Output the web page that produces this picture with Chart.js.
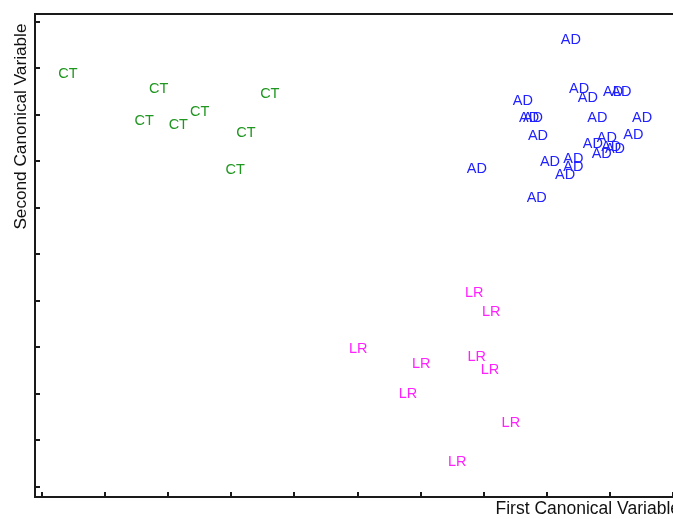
<!DOCTYPE html>
<html>
<head>
<meta charset="utf-8">
<script src="https://cdn.jsdelivr.net/npm/chart.js@4"></script>
<style>
  html, body { margin: 0; padding: 0; background: #fff; overflow: hidden; }
</style>
</head>
<body>
<canvas id="myChart" width="700" height="519"></canvas>
<script>
// group labels drawn as the markers
const groupNames = ["CT", "AD", "LR"];
const groupColors = ["#1f961f", "#2222ff", "#ff22ff"];

// CT scores (first, second canonical variable)
const ctX = [0.41, 1.85, 3.61, 2.50, 1.62, 2.16, 3.23, 3.06];
const ctY = [8.90, 8.58, 8.47, 8.09, 7.89, 7.81, 7.63, 6.84];

// AD scores
const adX = [8.38, 8.51, 8.65, 9.05, 9.18, 7.62, 7.72, 7.78, 8.80, 9.51, 7.86, 9.37,
  8.73, 8.95, 9.02, 9.08, 8.87, 8.05, 8.42, 8.42, 8.29, 7.84, 6.89];
const adY = [9.63, 8.58, 8.39, 8.52, 8.52, 8.32, 7.96, 7.96, 7.96, 7.96, 7.57, 7.59,
  7.40, 7.53, 7.33, 7.29, 7.18, 7.00, 7.08, 6.90, 6.73, 6.24, 6.86];

// LR scores
const lrX = [6.85, 7.12, 5.01, 6.01, 6.89, 7.10, 5.80, 7.43, 6.58];
const lrY = [4.19, 3.78, 2.99, 2.67, 2.82, 2.54, 2.02, 1.40, 0.56];

const xs = [ctX, adX, lrX];
const ys = [ctY, adY, lrY];

const datasets = groupNames.map((name, g) => ({
  label: name,
  data: xs[g].map((x, i) => ({ x: x, y: ys[g][i] })),
  pointRadius: 0,
  pointHoverRadius: 0,
  backgroundColor: groupColors[g],
}));

// draw each point as its group label
const textMarks = {
  id: "textMarks",
  afterDatasetsDraw(chart) {
    const ctx = chart.ctx;
    ctx.save();
    ctx.font = "14.5px 'Liberation Sans', Arial, sans-serif";
    ctx.textAlign = "center";
    ctx.textBaseline = "middle";
    chart.data.datasets.forEach((ds, i) => {
      ctx.fillStyle = groupColors[i];
      chart.getDatasetMeta(i).data.forEach(pt => {
        ctx.fillText(ds.label, pt.x, pt.y + 1);
      });
    });
    ctx.restore();
  }
};

// inside tick marks and top frame line
const frame = {
  id: "frame",
  afterDraw(chart) {
    const { ctx, chartArea: a, scales } = chart;
    ctx.save();
    ctx.strokeStyle = "#1a1a1a";
    ctx.lineWidth = 2;
    ctx.beginPath();
    ctx.moveTo(a.left - 1, a.top);
    ctx.lineTo(a.right, a.top);
    scales.x.ticks.forEach(t => {
      const px = Math.round(scales.x.getPixelForValue(t.value));
      ctx.moveTo(px, a.bottom);
      ctx.lineTo(px, a.bottom - 5);
    });
    scales.y.ticks.forEach(t => {
      const py = Math.round(scales.y.getPixelForValue(t.value));
      ctx.moveTo(a.left, py);
      ctx.lineTo(a.left + 5, py);
    });
    ctx.stroke();
    ctx.restore();
  }
};

const fontFamily = "'Liberation Sans', Arial, sans-serif";

new Chart(document.getElementById("myChart"), {
  type: "scatter",
  data: { datasets: datasets },
  options: {
    responsive: false,
    animation: false,
    events: [],
    layout: { padding: { left: 0, top: 14, right: 20, bottom: 0 } },
    scales: {
      x: {
        type: "linear",
        min: -0.111,
        max: 10.11,
        afterFit(s) { s.height = 22; },
        ticks: { display: false, stepSize: 1, includeBounds: false },
        grid: { display: false },
        border: { display: true, color: "#1a1a1a", width: 2 },
        title: {
          display: true,
          text: "First Canonical Variable",
          align: "end",
          color: "#111",
          font: { family: fontFamily, size: 17.5 },
          padding: { top: 0, bottom: -1 },
        },
      },
      y: {
        type: "linear",
        min: -0.215,
        max: 10.17,
        afterFit(s) { s.width = 35; },
        ticks: { display: false, stepSize: 1, includeBounds: false },
        grid: { display: false },
        border: { display: true, color: "#1a1a1a", width: 2 },
        title: {
          display: true,
          text: "Second Canonical Variable  ",
          align: "end",
          color: "#111",
          font: { family: fontFamily, size: 17.2 },
          padding: { top: 11, bottom: 0 },
        },
      },
    },
    plugins: {
      legend: { display: false },
      tooltip: { enabled: false },
    },
  },
  plugins: [textMarks, frame],
});
</script>
</body>
</html>
